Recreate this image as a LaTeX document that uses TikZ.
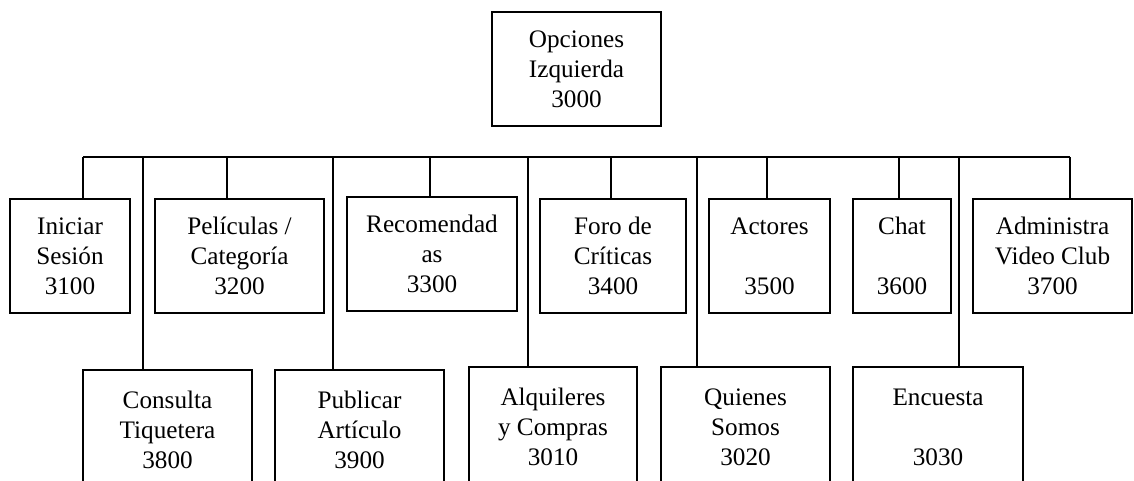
\documentclass[tikz,border=0pt]{standalone}
\usepackage{fontspec}
\setmainfont{Liberation Serif}
\usepackage{tikz}
\usetikzlibrary{positioning}
\tikzset{menubox/.style={rectangle,draw=black,fill=white,line width=0.7pt,
align=center,inner sep=2pt,font=\fontsize{12.6}{15}\selectfont}}
\tikzset{menutop/.style={menubox,minimum height=57pt}}
\tikzset{menusub/.style={menubox,minimum height=60pt}}
\tikzset{menuline/.style={line width=0.7pt}}

\begin{document}
\begin{tikzpicture}[x=0.5pt,y=-0.5pt]
    \useasboundingbox (0,0) rectangle (1134,481);
    \clip (0,0) rectangle (1134,481);

        \node[menutop, minimum width=84.5pt] (s3000) at (576.5,69) {Opciones\\Izquierda\\3000};

        \node[menutop, minimum width=60pt] (s3100) at (70,256) {Iniciar\\Sesión\\3100};
        \node[menutop, minimum width=84.5pt] (s3200) at (239.5,256) {Películas /\\Categoría\\3200};
        \node[menutop, minimum width=85pt] (s3300) at (432,254) {Recomendad\\as\\3300};
        \node[menutop, minimum width=73pt] (s3400) at (613,256) {Foro de\\Críticas\\3400};
        \node[menutop, minimum width=60.5pt] (s3500) at (769.5,256) {Actores\\[15pt]3500};
        \node[menutop, minimum width=49pt] (s3600) at (902,256) {Chat\\[15pt]3600};
        \node[menutop, minimum width=79.5pt] (s3700) at (1052.5,256) {Administra\\Video Club\\3700};

        \node[menusub, minimum width=84.5pt] (s3800) at (167.5,430) {Consulta\\Tiquetera\\3800};
        \node[menusub, minimum width=84.5pt] (s3900) at (359.5,430) {Publicar\\Artículo\\3900};
        \node[menusub, minimum width=84pt] (s3010) at (553,427) {Alquileres\\y Compras\\3010};
        \node[menusub, minimum width=84.5pt] (s3020) at (745.5,427) {Quienes\\Somos\\3020};
        \node[menusub, minimum width=85pt] (s3030) at (938,427) {Encuesta\\[15pt]3030};

        % bus and drops
        \coordinate (busL) at (83,157);
        \coordinate (busR) at (1070,157);
        \draw[menuline] (busL) -- (busR);

        \foreach \code/\xpos in {3100/83,3200/227,3300/430,3400/611,3500/767,3600/899,3700/1070,
                                 3800/143,3900/333,3010/528,3020/697,3030/959} {
            \coordinate (b\code) at (\xpos,157);
            \draw[menuline] (b\code) -- (b\code |- s\code.north);
        }

    \end{tikzpicture}
\end{document}
